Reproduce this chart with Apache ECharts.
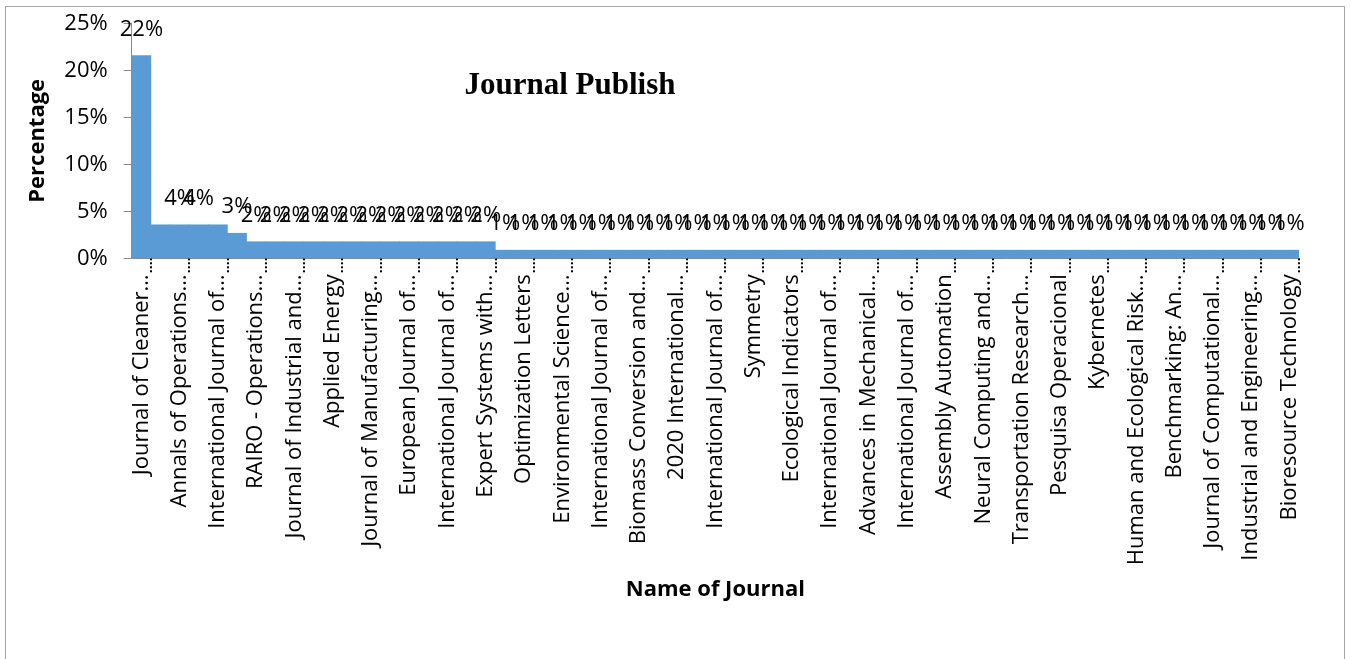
<!DOCTYPE html>
<html>
<head>
<meta charset="utf-8">
<script src="https://cdn.jsdelivr.net/npm/echarts@6/dist/echarts.min.js"></script>
<style>
  html, body { margin: 0; padding: 0; background: #fff; }
  #frame {
    position: absolute;
    left: 5px;
    top: 6px;
    width: 1340px;
    height: 700px;
    border: 1px solid #a6a6a6;
    box-sizing: border-box;
  }
  #chart { position: absolute; left: 0; top: 0; width: 1351px; height: 659px; }
</style>
</head>
<body>
<div id="frame"></div>
<div id="chart"></div>
<script>
// every second journal name is printed on the axis; the others are not readable
var shownJournals = [
  'Journal of Cleaner…', 'Annals of Operations…', 'International Journal of…',
  'RAIRO - Operations…', 'Journal of Industrial and…', 'Applied Energy',
  'Journal of Manufacturing…', 'European Journal of…', 'International Journal of…',
  'Expert Systems with…', 'Optimization Letters', 'Environmental Science…',
  'International Journal of…', 'Biomass Conversion and…', '2020 International…',
  'International Journal of…', 'Symmetry', 'Ecological Indicators',
  'International Journal of…', 'Advances in Mechanical…', 'International Journal of…',
  'Assembly Automation', 'Neural Computing and…', 'Transportation Research…',
  'Pesquisa Operacional', 'Kybernetes', 'Human and Ecological Risk…',
  'Benchmarking: An…', 'Journal of Computational…', 'Industrial and Engineering…',
  'Bioresource Technology'
]

// share of papers per journal, in percent
var percentages = [
  21.6, 3.6, 3.6, 3.6, 3.6, 2.7,
  1.8, 1.8, 1.8, 1.8, 1.8, 1.8, 1.8, 1.8, 1.8, 1.8, 1.8, 1.8, 1.8,
  0.9, 0.9, 0.9, 0.9, 0.9, 0.9, 0.9, 0.9, 0.9, 0.9,
  0.9, 0.9, 0.9, 0.9, 0.9, 0.9, 0.9, 0.9, 0.9, 0.9,
  0.9, 0.9, 0.9, 0.9, 0.9, 0.9, 0.9, 0.9, 0.9, 0.9,
  0.9, 0.9, 0.9, 0.9, 0.9, 0.9, 0.9, 0.9, 0.9, 0.9,
  0.9, 0.9
]

// bars whose value label is missing in the picture
var unlabeled = [1, 4]

var yTicks = [0, 5, 10, 15, 20, 25]

var categories = []
for (var i = 0; i < percentages.length; i++) {
  categories.push(i % 2 === 0 ? shownJournals[i / 2] : '')
}

var barData = percentages.map(function (v, i) {
  if (unlabeled.indexOf(i) >= 0) return { value: v, label: { show: false } }
  return v
})

var font = 'Open Sans'
var chart = echarts.init(document.getElementById('chart'))
chart.setOption({
  animation: false,
  title: {
    text: 'Journal Publish',
    left: 565,
    top: 65,
    textAlign: 'center',
    textStyle: {
      fontFamily: 'Liberation Serif',
      fontWeight: 'bold',
      fontSize: 31,
      color: '#000'
    }
  },
  grid: {
    left: 131.7,
    right: 52,
    top: 23.3,
    bottom: 400.7
  },
  xAxis: {
    type: 'category',
    data: categories,
    name: 'Name of Journal',
    nameLocation: 'middle',
    nameGap: 320,
    nameTextStyle: { fontFamily: font, fontWeight: 'bold', fontSize: 22, color: '#000' },
    axisLine: { lineStyle: { color: '#898989', width: 1 } },
    axisTick: {
      show: true,
      interval: function (index) { return index % 2 === 1 },
      length: 15,
      lineStyle: { color: '#000', type: 'dotted', width: 2 }
    },
    axisLabel: {
      interval: 1,
      rotate: 90,
      margin: 16,
      fontFamily: font,
      fontSize: 22,
      color: '#000'
    }
  },
  yAxis: {
    type: 'value',
    min: yTicks[0],
    max: yTicks[yTicks.length - 1],
    interval: yTicks[1] - yTicks[0],
    name: 'Percentage',
    nameLocation: 'middle',
    nameGap: 83,
    nameTextStyle: { fontFamily: font, fontWeight: 'bold', fontSize: 22, color: '#000' },
    axisLine: { show: true, lineStyle: { color: '#898989', width: 1 } },
    axisTick: { show: true, length: 8, lineStyle: { color: '#898989' } },
    splitLine: { show: false },
    axisLabel: {
      formatter: '{value}%',
      margin: 24,
      fontFamily: font,
      fontSize: 22,
      color: '#000'
    }
  },
  series: [
    {
      type: 'bar',
      data: barData,
      barWidth: '104%',
      itemStyle: { color: '#5b9bd5' },
      label: {
        show: true,
        position: 'top',
        distance: 15,
        fontFamily: font,
        fontSize: 22,
        color: '#000',
        formatter: function (p) { return Math.round(p.value) + '%' }
      }
    }
  ]
})
</script>
</body>
</html>
